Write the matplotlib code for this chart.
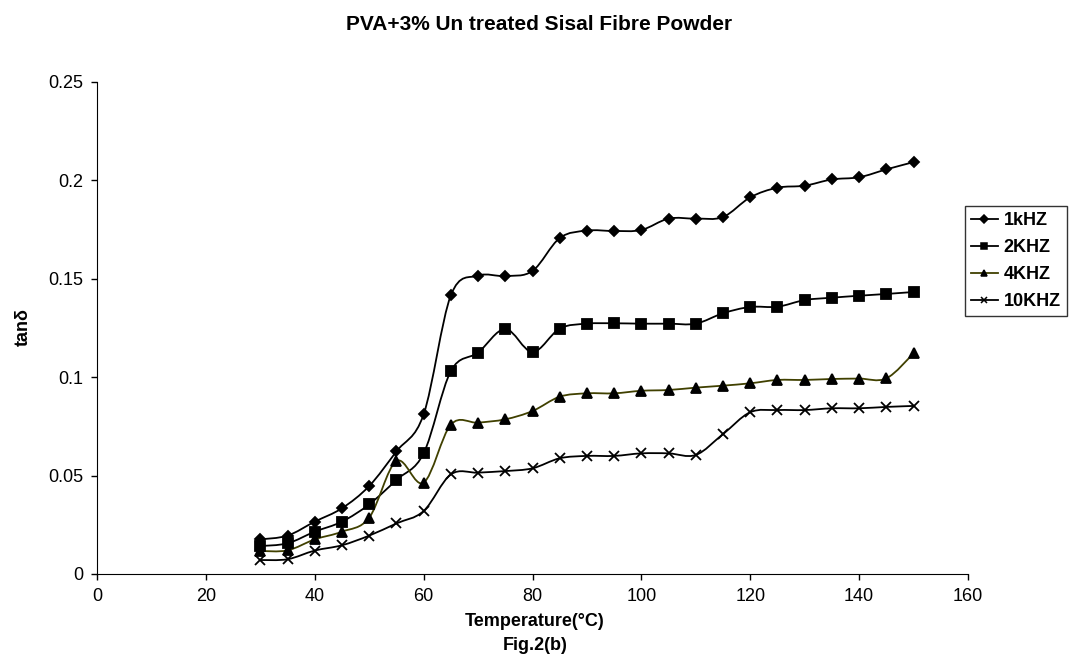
import numpy as np
import matplotlib.pyplot as plt
from matplotlib.path import Path
from matplotlib.patches import PathPatch
from matplotlib.lines import Line2D

plt.rcParams['font.family'] = ['Liberation Sans', 'DejaVu Sans']

# Data
temp = [30, 35, 40, 45, 50, 55, 60, 65, 70, 75, 80, 85, 90, 95, 100,
        105, 110, 115, 120, 125, 130, 135, 140, 145, 150]
tan_1k = [0.0176, 0.0195, 0.0266, 0.0334, 0.0447, 0.0623, 0.0811, 0.1416,
          0.1516, 0.1514, 0.1540, 0.1707, 0.1745, 0.1743, 0.1748, 0.1806,
          0.1806, 0.1814, 0.1914, 0.1963, 0.1973, 0.2005, 0.2016, 0.2056, 0.2093]
tan_2k = [0.0142, 0.0156, 0.0215, 0.0266, 0.0354, 0.0478, 0.0613, 0.1031,
          0.1125, 0.1245, 0.1128, 0.1247, 0.1272, 0.1274, 0.1272, 0.1272,
          0.1272, 0.1325, 0.1357, 0.1358, 0.1392, 0.1404, 0.1414, 0.1423, 0.1433]
tan_4k = [0.0117, 0.0120, 0.0176, 0.0215, 0.0286, 0.0574, 0.0464, 0.0759,
          0.0769, 0.0786, 0.0828, 0.0901, 0.0918, 0.0918, 0.0931, 0.0935,
          0.0947, 0.0957, 0.0969, 0.0986, 0.0986, 0.0991, 0.0993, 0.0994, 0.1121]
tan_10k = [0.0071, 0.0075, 0.0119, 0.0146, 0.0195, 0.0257, 0.0320, 0.0506,
           0.0515, 0.0523, 0.0537, 0.0588, 0.0600, 0.0600, 0.0613, 0.0613,
           0.0605, 0.0711, 0.0822, 0.0833, 0.0833, 0.0842, 0.0842, 0.0849, 0.0854]
labels = ['1kHZ', '2KHZ', '4KHZ', '10KHZ']
markers = ['D', 's', '^', 'x']
msizes = [5.5, 6.5, 7, 7]
colors = ['black', 'black', '#404000', 'black']

FS = 13


# Excel-like smoothed line: Catmull-Rom style Bezier through the points
def smooth_path(x, y):
    x = np.asarray(x, float)
    y = np.asarray(y, float)
    verts = [(x[0], y[0])]
    codes = [Path.MOVETO]
    n = len(x)
    for i in range(n - 1):
        x0, y0 = (x[i - 1], y[i - 1]) if i > 0 else (x[i], y[i])
        x3, y3 = (x[i + 2], y[i + 2]) if i + 2 < n else (x[i + 1], y[i + 1])
        c1 = (x[i] + (x[i + 1] - x0) / 6, y[i] + (y[i + 1] - y0) / 6)
        c2 = (x[i + 1] - (x3 - x[i]) / 6, y[i + 1] - (y3 - y[i]) / 6)
        verts += [c1, c2, (x[i + 1], y[i + 1])]
        codes += [Path.CURVE4] * 3
    return Path(verts, codes)


fig = plt.figure(figsize=(10.69, 6.56), dpi=100)
ax = fig.add_axes([97 / 1069, 1 - 574 / 656, (968 - 97) / 1069, (574 - 82) / 656])

handles = []
for ys, lab, m, ms, c in zip([tan_1k, tan_2k, tan_4k, tan_10k], labels, markers, msizes, colors):
    ax.add_patch(PathPatch(smooth_path(temp, ys), facecolor='none', edgecolor=c, lw=1.3))
    ax.plot(temp, ys, linestyle='none', marker=m, ms=ms, color='black', mew=1.3)
    handles.append(Line2D([], [], color=c, lw=1.3, marker=m, ms=ms * 0.7, mfc='black',
                          mec='black', mew=1.1))

ax.set_xlim(0, 160)
ax.set_ylim(0, 0.25)
ax.set_xticks(range(0, 161, 20))
ax.set_yticks([0, 0.05, 0.1, 0.15, 0.2, 0.25])
ax.set_yticklabels(['0', '0.05', '0.1', '0.15', '0.2', '0.25'])
ax.spines['top'].set_visible(False)
ax.spines['right'].set_visible(False)
ax.tick_params(direction='out', length=4, labelsize=FS, width=1, pad=6)

fig.text(539 / 1069, 1 - 24 / 656, 'PVA+3% Un treated Sisal Fibre Powder',
         ha='center', va='center', fontsize=15, fontweight='bold')
fig.text(535 / 1069, 1 - 622 / 656, 'Temperature(°C)', ha='center', va='center',
         fontsize=FS, fontweight='bold')
fig.text(535 / 1069, 1 - 645 / 656, 'Fig.2(b)', ha='center', va='center',
         fontsize=FS, fontweight='bold')
fig.text(23 / 1069, 1 - 327 / 656, 'tanδ', ha='center', va='center', rotation=90,
         fontsize=FS, fontweight='bold')

leg = fig.legend(handles, labels, loc='upper left', bbox_to_anchor=(965 / 1069, 1 - 206 / 656),
                 frameon=True, fancybox=False, edgecolor='black',
                 prop={'weight': 'bold', 'size': FS}, handlelength=1.45,
                 borderpad=0.35, labelspacing=0.55, handletextpad=0.35, borderaxespad=0)
leg.get_frame().set_linewidth(1.0)

fig.savefig('out.png', dpi=100)
